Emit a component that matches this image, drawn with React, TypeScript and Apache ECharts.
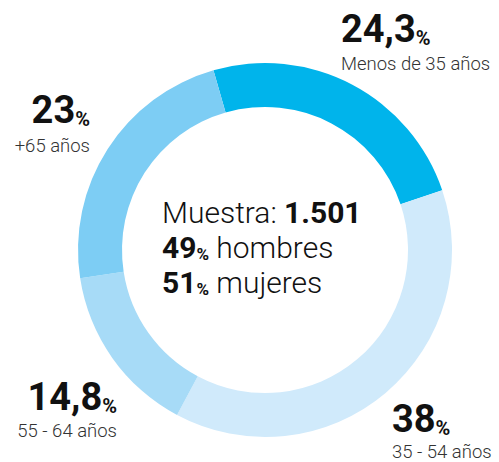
import React, { useEffect, useRef } from "react";
import * as echarts from "echarts";

const categories = ["Menos de 35 años", "35 - 54 años", "55 - 64 años", "+65 años"];
const values = [24.3, 38, 14.8, 23];
const colors = ["#00b4eb", "#d0eafb", "#a7dbf7", "#7dcdf4"];
const sampleSize = "1.501";
const menPct = 49;
const womenPct = 51;

const FONT = "Roboto";

const fmt = (v: number) => String(v).replace(".", ",");

// label anchor: [x, cap-middle y of number, middle y of subtitle, align]
const labelPos: Array<[number, number, number, string]> = [
  [341, 33, 64, "left"],
  [392, 423, 452, "left"],
  [117, 401, 431, "right"],
  [90, 114, 146, "right"],
];

export default function App() {
  const ref = useRef<HTMLDivElement>(null);
  useEffect(() => {
    if (!ref.current) return;
    const chart = echarts.init(ref.current, null, { renderer: "svg" });
    const graphics: any[] = [];
    categories.forEach((c, i) => {
      const [x, y1, y2, align] = labelPos[i];
      graphics.push({
        type: "text",
        x,
        y: y1,
        style: {
          text: `{n|${fmt(values[i])}}{p|%}`,
          align: align as any,
          verticalAlign: "middle",
          rich: {
            n: { fontFamily: FONT, fontWeight: "bold", fontSize: 38, fill: "#111", verticalAlign: "bottom", lineHeight: 30 },
            p: { fontFamily: FONT, fontWeight: "bold", fontSize: 20, fill: "#111", verticalAlign: "bottom", lineHeight: 18 },
          },
        },
      });
      graphics.push({
        type: "text",
        x,
        y: y2,
        style: {
          text: c,
          align: align as any,
          verticalAlign: "middle",
          fontFamily: FONT,
          fontWeight: 300,
          fontSize: 18.5,
          fill: "#333",
        },
      });
    });
    const centerLines = [
      `{r|Muestra: }{b|${sampleSize}}`,
      `{b|${menPct}}{p|%}{r| hombres}`,
      `{b|${womenPct}}{p|%}{r| mujeres}`,
    ];
    const centerY = [212, 247, 282];
    centerLines.forEach((t, i) => {
      graphics.push({
        type: "text",
        x: 162,
        y: centerY[i],
        style: {
          text: t,
          align: "left",
          verticalAlign: "middle",
          rich: {
            r: { fontFamily: FONT, fontWeight: 300, fontSize: 30, fill: "#111", verticalAlign: "bottom", lineHeight: 30 },
            b: { fontFamily: FONT, fontWeight: "bold", fontSize: 30, fill: "#111", verticalAlign: "bottom", lineHeight: 30 },
            p: { fontFamily: FONT, fontWeight: "bold", fontSize: 17, fill: "#111", verticalAlign: "bottom", lineHeight: 21 },
          },
        },
      });
    });

    chart.setOption({
      animation: false,
      series: [
        {
          type: "pie",
          center: [265, 250],
          radius: [143, 187],
          startAngle: 106,
          clockwise: true,
          silent: true,
          label: { show: false },
          labelLine: { show: false },
          itemStyle: { borderWidth: 0 },
          emphasis: { disabled: true },
          data: categories.map((c, i) => ({
            name: c,
            value: values[i],
            itemStyle: { color: colors[i] },
          })),
        },
      ],
      graphic: graphics,
    });
    return () => chart.dispose();
  }, []);
  return (
    <div
      ref={ref}
      style={{ position: "fixed", left: 0, top: 0, width: 499, height: 462, background: "#fff" }}
    />
  );
}
